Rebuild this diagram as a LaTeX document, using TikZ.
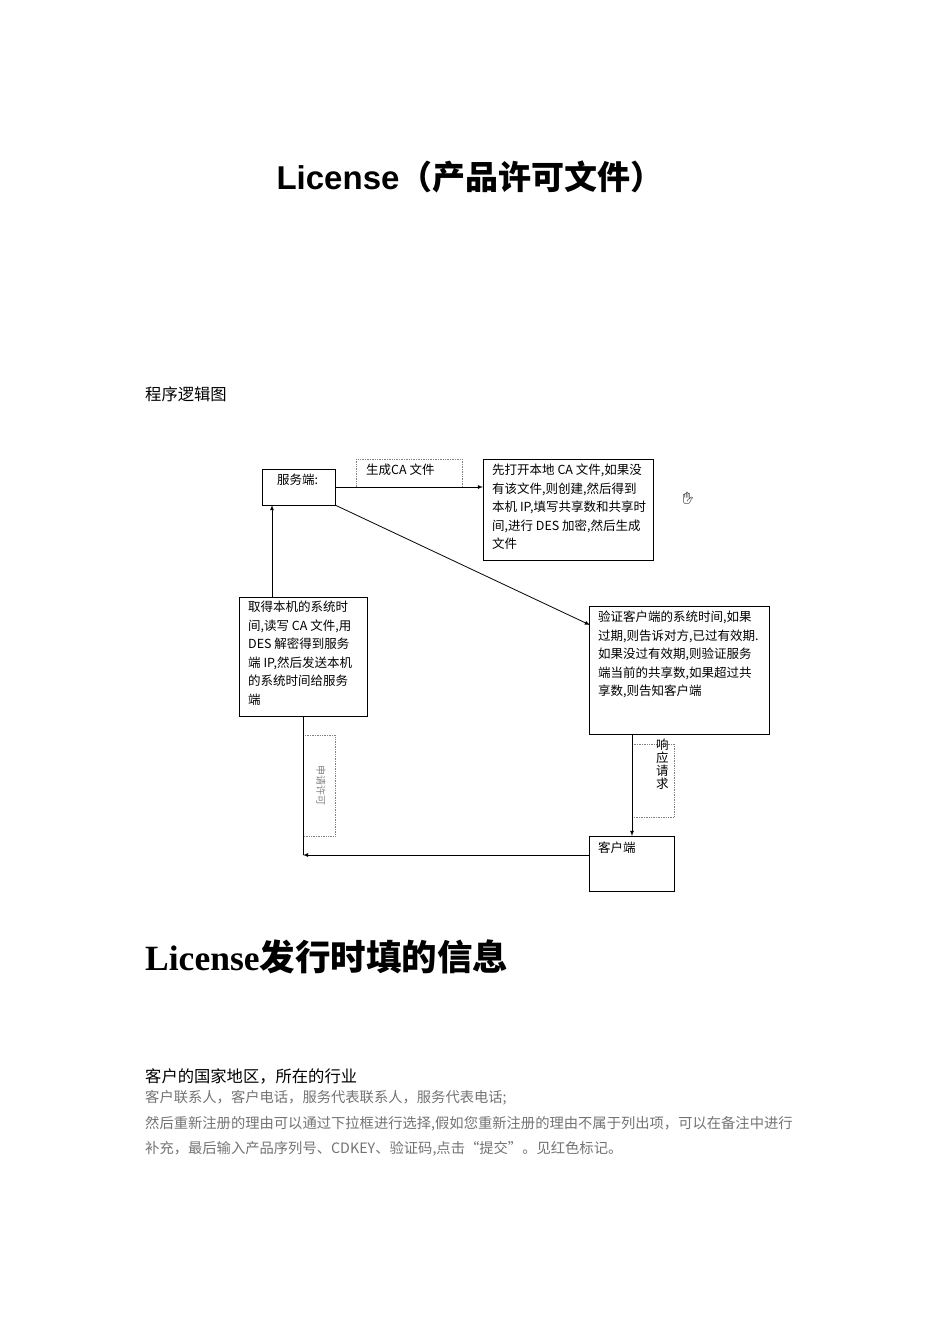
\documentclass[tikz,border=0pt]{standalone}
\usepackage{fontspec}
\setmainfont{Liberation Serif}
\newfontfamily\cjk{Noto Sans CJK SC}
\newfontfamily\hsans{Liberation Sans}
\newfontfamily\emo{Noto Emoji}
\begin{document}
\begin{tikzpicture}[x=1pt,y=-1pt,
 bx/.style={draw,line width=0.8pt,inner sep=0pt},
 dbx/.style={draw,densely dotted,gray,line width=0.7pt},
 arr/.style={-latex,line width=0.8pt},
 t/.style={font=\fontsize{12.5}{18.5}\selectfont\cjk,anchor=north west,align=left,inner sep=0pt},
 gtxt/.style={font=\fontsize{14.3}{16}\selectfont\cjk,text=gray!90!black,anchor=west,inner sep=0pt}]
\useasboundingbox (0,0) rectangle (950,1344);
\node[font=\fontsize{33}{38}\selectfont\hsans\bfseries] (title) at (470,177) {License{\cjk\bfseries（产品许可文件）}};
\node[font=\fontsize{16.3}{18}\selectfont\cjk,anchor=west,inner sep=0pt] (sub) at (145,394) {程序逻辑图};
% boxes
\draw[bx] (262,469) rectangle (335,505);
\node[t] (srv) at (277,474) {服务端:};
\coordinate (srvR) at (335,487); \coordinate (srvBR) at (335,505); \coordinate (srvB) at (272,505);
\draw[dbx] (356,459) rectangle (462,487);
\node[t] (gen) at (366,464) {生成CA 文件};
\draw[bx] (483,459) rectangle (653,560);
\node[t] (b1) at (492,464) {先打开本地 CA 文件,如果没\\有该文件,则创建,然后得到\\本机 IP,填写共享数和共享时\\间,进行 DES 加密,然后生成\\文件};
\coordinate (b1L) at (483,487);
\node[font=\fontsize{12}{12}\selectfont\emo] (hand) at (688,498) {✋};
\draw[bx] (239,597) rectangle (367,716);
\node[t] (b2) at (248,601) {取得本机的系统时\\间,读写 CA 文件,用\\DES 解密得到服务\\端 IP,然后发送本机\\的系统时间给服务\\端};
\coordinate (b2T) at (272,597); \coordinate (b2B) at (303,716);
\draw[bx] (589,606) rectangle (769,734);
\node[t] (b3) at (598,611) {验证客户端的系统时间,如果\\过期,则告诉对方,已过有效期.\\如果没过有效期,则验证服务\\端当前的共享数,如果超过共\\享数,则告知客户端};
\coordinate (b3T) at (590,625); \coordinate (b3B) at (632,734);
\draw[dbx] (632,744) rectangle (674,817);
\node[t,font=\fontsize{12.5}{13}\selectfont\cjk] (resp) at (656,739) {响\\应\\请\\求};
\draw[bx] (589,836) rectangle (674,891);
\node[t] (cli) at (598,842) {客户端};
\coordinate (cliT) at (632,836); \coordinate (cliL) at (589,855);
\coordinate (corner) at (303,855);
\draw[dbx] (303,735) rectangle (335,836);
\node[font=\fontsize{10}{12}\selectfont\cjk,gray,rotate=-90] (req) at (321,785) {申请许可};
% connectors
\draw[arr] (srvR) -- (b1L);
\draw[arr] (srvBR) -- (b3T);
\draw[arr] (b2T) -- (srvB);
\draw[arr] (b3B) -- (cliT);
\draw[line width=0.8pt] (b2B) -- (corner);
\draw[arr] (cliL) -- (corner);
% lower text
\node[font=\fontsize{35.5}{40}\selectfont\bfseries,anchor=west,inner sep=0pt] (h2) at (145,957) {License{\cjk\bfseries 发行时填的信息}};
\node[font=\fontsize{16.3}{18}\selectfont\cjk,anchor=west,inner sep=0pt] (p1) at (145,1076) {客户的国家地区，所在的行业};
\node[gtxt] (p2) at (145,1098) {客户联系人，客户电话，服务代表联系人，服务代表电话;};
\node[gtxt] (p3) at (145,1124) {然后重新注册的理由可以通过下拉框进行选择,假如您重新注册的理由不属于列出项，可以在备注中进行};
\node[gtxt] (p4) at (145,1149) {补充，最后输入产品序列号、CDKEY、验证码,点击“提交”。见红色标记。};
\end{tikzpicture}
\end{document}
